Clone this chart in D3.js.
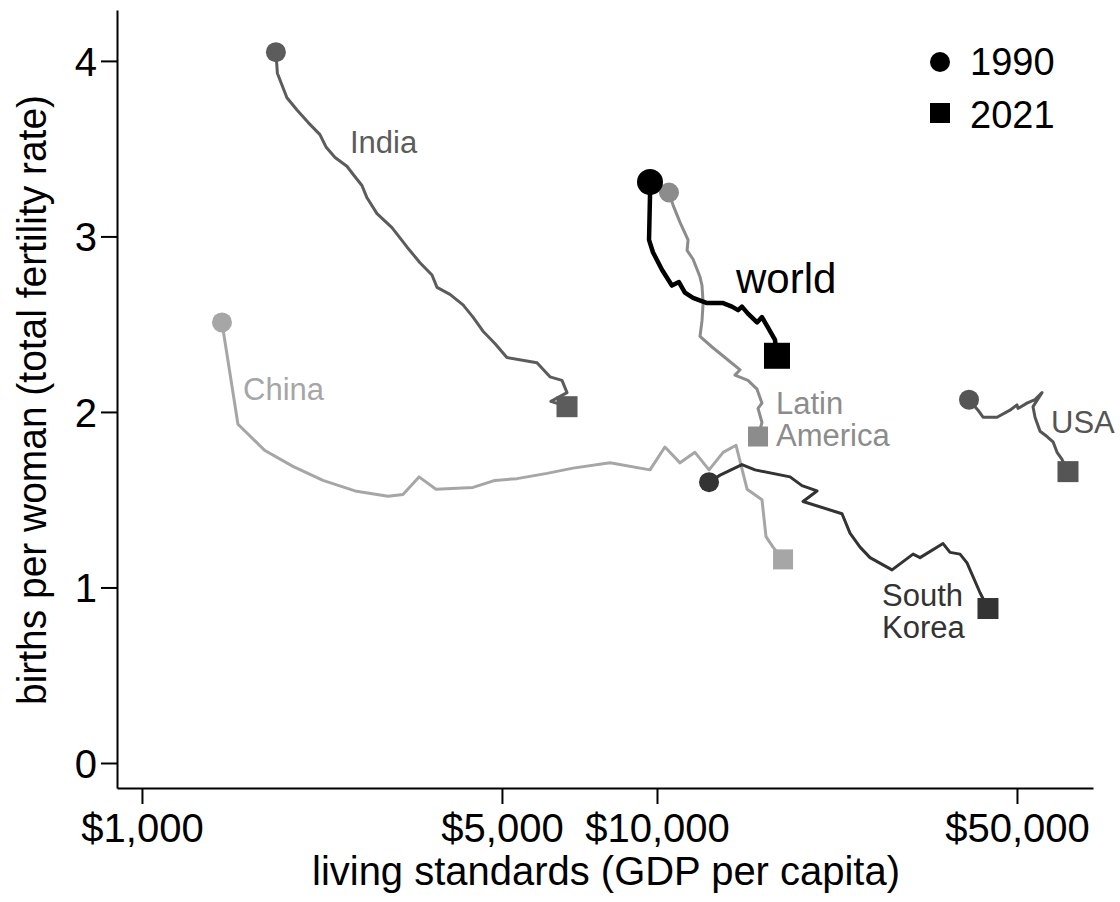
<!DOCTYPE html>
<html>
<head>
<meta charset="utf-8">
<script src="https://cdn.jsdelivr.net/npm/d3@7"></script>
<style>
  html, body { margin: 0; padding: 0; background: #fff; }
  svg { display: block; font-family: "Liberation Sans", Arial, sans-serif; }
</style>
</head>
<body>
<svg id="chart" width="1120" height="902"></svg>
<script>
// GDP per capita (US$) and total fertility rate, traced year by year 1990 -> 2021
const indiaGdp = [1820, 1832, 1912, 2000, 2101, 2216, 2277, 2371, 2500, 2592, 2674, 2735, 2860, 3058, 3270, 3466, 3657, 3740, 3963, 4202, 4393, 4594, 4845, 5111, 5848, 6197, 6540, 6688, 6224, 6688];
const indiaTfr = [4.05, 3.93, 3.79, 3.72, 3.65, 3.58, 3.51, 3.45, 3.40, 3.34, 3.29, 3.22, 3.13, 3.05, 2.94, 2.85, 2.78, 2.71, 2.67, 2.61, 2.54, 2.46, 2.39, 2.31, 2.28, 2.20, 2.18, 2.11, 2.06, 2.03];

const chinaGdp = [1430, 1536, 1733, 1964, 2246, 2592, 3004, 3212, 3451, 3723, 4393, 4845, 5348, 6115, 6870, 8105, 9692, 10360, 11085, 11850, 12620, 13440, 14240, 14960, 15990, 16280, 16800, 17570];
const chinaTfr = [2.51, 1.93, 1.78, 1.69, 1.61, 1.55, 1.52, 1.53, 1.63, 1.56, 1.57, 1.61, 1.62, 1.65, 1.68, 1.71, 1.67, 1.80, 1.71, 1.77, 1.67, 1.77, 1.81, 1.56, 1.50, 1.29, 1.23, 1.16];

const latamGdp = [10550, 10740, 11085, 11490, 11440, 11750, 12120, 12230, 12290, 12230, 12120, 12790, 13550, 14500, 14170, 15020, 15640, 15990, 15710, 15990, 15710];
const latamTfr = [3.25, 3.18, 3.08, 2.98, 2.92, 2.87, 2.77, 2.72, 2.62, 2.52, 2.43, 2.37, 2.31, 2.24, 2.21, 2.18, 2.13, 2.05, 2.02, 1.94, 1.86];

const worldGdp = [9692, 9692, 9650, 9822, 10225, 10690, 11030, 11330, 11750, 12510, 13440, 13980, 14370, 14620, 15020, 15640, 15990, 16430, 16950, 17100];
const worldTfr = [3.31, 3.23, 2.98, 2.91, 2.81, 2.72, 2.74, 2.68, 2.65, 2.62, 2.62, 2.60, 2.58, 2.60, 2.56, 2.51, 2.54, 2.48, 2.41, 2.32];

const koreaGdp = [12620, 13260, 14620, 15500, 18130, 19120, 20450, 19210, 22870, 23700, 24790, 25920, 28600, 31420, 32420, 35930, 37070, 38760, 39990, 42390, 43920];
const koreaTfr = [1.60, 1.64, 1.70, 1.67, 1.63, 1.58, 1.55, 1.49, 1.42, 1.31, 1.23, 1.17, 1.10, 1.19, 1.17, 1.25, 1.20, 1.19, 1.14, 0.97, 0.88];

const usaGdp = [40350, 42010, 42960, 45740, 48460, 50000, 50230, 52290, 54200, 55920, 53720, 54200, 55430, 57190, 58750, 59810, 61150, 62810];
const usaTfr = [2.07, 2.01, 1.97, 1.97, 2.01, 2.04, 2.02, 2.05, 2.07, 2.11, 2.03, 1.97, 1.89, 1.86, 1.83, 1.77, 1.73, 1.66];

const xTicks = [1000, 5000, 10000, 50000];
const yTicks = [0, 1, 2, 3, 4];
const legendYears = ["1990", "2021"];

const svg = d3.select("#chart");

const x = d3.scaleLog().domain([894.4, 70240]).range([117, 1093]);
const y = d3.scaleLinear().domain([-0.1425, 4.29]).range([788, 10]);

// Axes
const fmt = d => "$" + d3.format(",")(d);
const xAxis = svg.append("g")
  .attr("transform", "translate(0,788)")
  .call(d3.axisBottom(x).tickValues(xTicks).tickFormat(fmt).tickSize(16).tickSizeOuter(0).tickPadding(6));
const yAxis = svg.append("g")
  .attr("transform", "translate(117,0)")
  .call(d3.axisLeft(y).tickValues(yTicks).tickFormat(d3.format("d")).tickSize(16).tickSizeOuter(0).tickPadding(4));

[xAxis, yAxis].forEach(g => {
  g.selectAll("path.domain").attr("stroke", "#000").attr("stroke-width", 2);
  g.selectAll(".tick line").attr("stroke", "#000").attr("stroke-width", 2);
  g.selectAll(".tick text").attr("fill", "#000").style("font-size", "40px")
    .style("font-family", "'Liberation Sans', Arial, sans-serif");
});
xAxis.selectAll(".tick text").attr("dy", null).attr("y", 54);
yAxis.selectAll(".tick text").attr("dy", "0.36em");

// Axis titles
svg.append("text")
  .attr("x", 606).attr("y", 885)
  .attr("text-anchor", "middle")
  .style("font-size", "40px")
  .attr("textLength", 588).attr("lengthAdjust", "spacingAndGlyphs")
  .text("living standards (GDP per capita)");

svg.append("text")
  .attr("transform", "translate(46,400) rotate(-90)")
  .attr("text-anchor", "middle")
  .style("font-size", "40px")
  .attr("textLength", 610).attr("lengthAdjust", "spacingAndGlyphs")
  .text("births per woman (total fertility rate)");

// Series
const series = [
  { name: "China", gdp: chinaGdp, tfr: chinaTfr, color: "#a6a6a6", w: 3, r: 10, s: 20 },
  { name: "Latin America", gdp: latamGdp, tfr: latamTfr, color: "#8c8c8c", w: 3, r: 10, s: 20 },
  { name: "India", gdp: indiaGdp, tfr: indiaTfr, color: "#5c5c5c", w: 3, r: 10, s: 21 },
  { name: "USA", gdp: usaGdp, tfr: usaTfr, color: "#555555", w: 3, r: 10, s: 21 },
  { name: "South Korea", gdp: koreaGdp, tfr: koreaTfr, color: "#333333", w: 3, r: 10, s: 21 },
  { name: "world", gdp: worldGdp, tfr: worldTfr, color: "#000000", w: 4.5, r: 13, s: 26 }
];

const line = d3.line().x(d => x(d[0])).y(d => y(d[1]));

series.forEach(sr => {
  const pts = sr.gdp.map((g, i) => [g, sr.tfr[i]]);
  const g = svg.append("g");
  g.append("path")
    .attr("d", line(pts))
    .attr("fill", "none")
    .attr("stroke", sr.color)
    .attr("stroke-width", sr.w)
    .attr("stroke-linejoin", "round")
    .attr("stroke-linecap", "round");
  const first = pts[0], last = pts[pts.length - 1];
  g.append("circle")
    .attr("cx", x(first[0])).attr("cy", y(first[1])).attr("r", sr.r)
    .attr("fill", sr.color);
  g.append("rect")
    .attr("x", x(last[0]) - sr.s / 2).attr("y", y(last[1]) - sr.s / 2)
    .attr("width", sr.s).attr("height", sr.s)
    .attr("fill", sr.color);
});

// Series labels
const labels = [
  { lines: ["India"], x: 350, y: 153, color: "#5c5c5c", size: 31 },
  { lines: ["China"], x: 243, y: 400, color: "#a6a6a6", size: 31 },
  { lines: ["world"], x: 736, y: 293, color: "#000000", size: 42 },
  { lines: ["Latin", "America"], x: 776, y: 414, color: "#8c8c8c", size: 31 },
  { lines: ["USA"], x: 1051, y: 433, color: "#555555", size: 31 },
  { lines: ["South", "Korea"], x: 882, y: 606, color: "#333333", size: 31 }
];
labels.forEach(l => {
  const t = svg.append("text")
    .attr("x", l.x).attr("y", l.y)
    .attr("fill", l.color)
    .style("font-size", l.size + "px");
  l.lines.forEach((s, i) => {
    t.append("tspan").attr("x", l.x).attr("dy", i === 0 ? 0 : 32).text(s);
  });
});

// Legend
const leg = svg.append("g");
leg.append("circle").attr("cx", 940).attr("cy", 62).attr("r", 10).attr("fill", "#000");
leg.append("rect").attr("x", 930).attr("y", 103).attr("width", 20).attr("height", 20).attr("fill", "#000");
leg.selectAll("text.year").data(legendYears).join("text")
  .attr("class", "year")
  .attr("x", 970)
  .attr("y", (d, i) => 75 + i * 53)
  .style("font-size", "38px")
  .text(d => d);
</script>
</body>
</html>
